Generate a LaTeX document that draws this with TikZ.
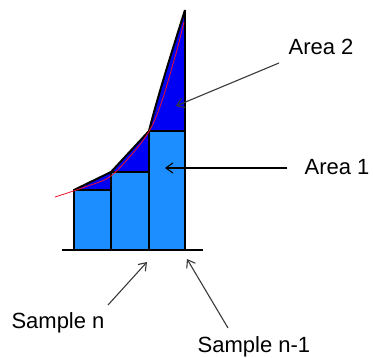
\documentclass[tikz,border=0pt]{standalone}
\usepackage{fontspec}
\setmainfont{Liberation Sans}
\usepackage{tikz}
\usetikzlibrary{arrows.meta}
\usepackage{xcolor}
\definecolor{barBlue}{HTML}{1C8EFF}
\definecolor{deepBlue}{HTML}{0000F5}
\definecolor{curveRed}{HTML}{F0102A}
\definecolor{pointerGray}{HTML}{3A3A3A}
\tikzset{
    bar/.style={
        draw=black,
        line width=2.6pt,
        fill=barBlue
    },
    wedge/.style={
        fill=deepBlue,
        draw=none
    },
    label/.style={
        inner sep=0pt,
        anchor=center,
        font=\fontsize{22}{26}\selectfont
    },
    pointer/.style={-{Straight Barb[length=7pt,width=10pt]},line width=1.1pt,draw=pointerGray}
}

\begin{document}
\begin{tikzpicture}[x=1pt,y=-1pt]
    \useasboundingbox (0,0) rectangle (373,358);

    % area between curve and samples
    \fill[wedge] (74,190) -- (111,172) -- (111,190) -- cycle;
    \fill[wedge] (111,172) -- (149,131) -- (149,172) -- cycle;
    \fill[wedge] (149,131) .. controls (158,95) and (174,45) .. (185,10)
        -- (185,131) -- cycle;

    % sample bars
    \draw[bar] (74,190) rectangle (111,250);
    \draw[bar] (111,172) rectangle (149,250);
    \draw[bar] (149,131) rectangle (185,250);

    % approximation outline
    \draw[line width=2pt] (74,190) -- (111,172) -- (149,131)
        .. controls (158,95) and (174,45) .. (185,10);
    \draw[line width=2.6pt] (185,250) -- (185,10);
    \draw[line width=2.8pt] (62,250) -- (203,250);

    % true function
    \draw[curveRed, line width=0.8pt] plot[smooth] coordinates
        {(55,197) (85,187) (111,176) (138,147) (152,126) (162,101)
         (171,71) (178,46) (184,22)};

    % labels
    \node[label] (area2) at (321,47) {Area 2};
    \node[label] (area1) at (337,167) {Area 1};
    \node[label] (samplen) at (58,323) {Sample n};
    \node[label] (samplenm) at (254,347) {Sample n-1};

    \coordinate (a2tail) at (279,63);
    \coordinate (a2tip) at (176,106);
    \coordinate (a1tail) at (287,168);
    \coordinate (a1tip) at (165,168);
    \coordinate (sntail) at (108,305);
    \coordinate (sntip) at (147,262);
    \coordinate (smtail) at (228,328);
    \coordinate (smtip) at (187,259);

    \draw[pointer] (a2tail) -- (a2tip);
    \draw[pointer, draw=black] (a1tail) -- (a1tip);
    \draw[pointer] (sntail) -- (sntip);
    \draw[pointer] (smtail) -- (smtip);
\end{tikzpicture}
\end{document}
